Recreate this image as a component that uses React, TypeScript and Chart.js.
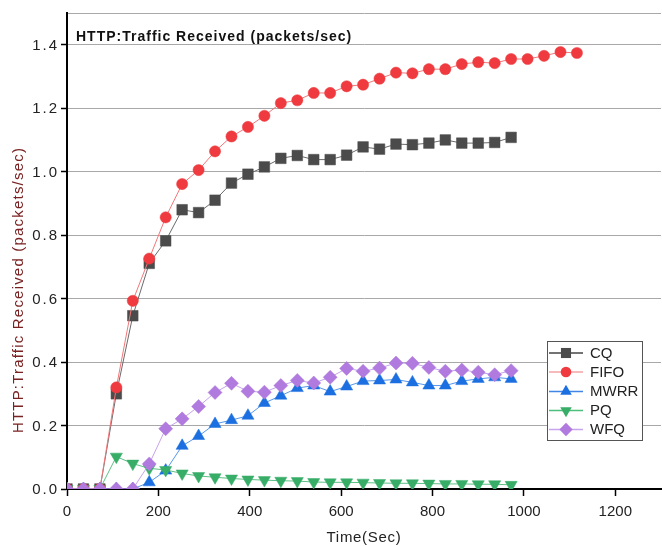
import React, { useEffect, useRef } from "react";
import { Chart, registerables } from "chart.js";

Chart.register(...registerables);

const CHART_TITLE = "HTTP:Traffic Received (packets/sec)";
const Y_TITLE = "HTTP:Traffic Received (packets/sec)";
const X_TITLE = "Time(Sec)";

const TIME_SHORT = [0, 36, 72, 108, 144, 180, 216, 252, 288, 324, 360, 396, 432, 468, 504, 540, 576, 612, 648, 684, 720, 756, 792, 828, 864, 900, 936, 972];
const TIME_LONG = [0, 36, 72, 108, 144, 180, 216, 252, 288, 324, 360, 396, 432, 468, 504, 540, 576, 612, 648, 684, 720, 756, 792, 828, 864, 900, 936, 972, 1008, 1044, 1080, 1116];

const CQ = [0, 0, 0, 0.30, 0.546, 0.711, 0.782, 0.88, 0.871, 0.91, 0.964, 0.992, 1.015, 1.042, 1.051, 1.038, 1.038, 1.052, 1.078, 1.071, 1.087, 1.085, 1.09, 1.1, 1.09, 1.09, 1.092, 1.108];
const FIFO = [0, 0, 0, 0.32, 0.593, 0.726, 0.856, 0.961, 1.005, 1.064, 1.111, 1.141, 1.176, 1.216, 1.225, 1.248, 1.248, 1.269, 1.274, 1.293, 1.312, 1.31, 1.323, 1.323, 1.339, 1.345, 1.342, 1.355, 1.355, 1.365, 1.377, 1.374];
const MWRR = [0, 0, 0, 0, 0, 0.021, 0.058, 0.136, 0.167, 0.205, 0.217, 0.231, 0.271, 0.294, 0.318, 0.326, 0.307, 0.323, 0.34, 0.342, 0.345, 0.336, 0.326, 0.326, 0.34, 0.347, 0.352, 0.347];
const PQ = [0, 0, 0, 0.102, 0.08, 0.065, 0.06, 0.049, 0.041, 0.037, 0.033, 0.03, 0.028, 0.026, 0.025, 0.022, 0.021, 0.021, 0.02, 0.019, 0.018, 0.018, 0.017, 0.016, 0.016, 0.015, 0.015, 0.013];
const WFQ = [0, 0, 0, 0, 0, 0.079, 0.19, 0.221, 0.26, 0.304, 0.333, 0.308, 0.305, 0.326, 0.342, 0.334, 0.352, 0.38, 0.371, 0.381, 0.397, 0.396, 0.383, 0.371, 0.375, 0.368, 0.36, 0.373];

const X_TICKS = [0, 200, 400, 600, 800, 1000, 1200];
const Y_TICKS = [0, 0.2, 0.4, 0.6, 0.8, 1.0, 1.2, 1.4];

type SeriesDef = {
  name: string;
  times: number[];
  values: number[];
  marker: string;
  line: string;
  shape: string;
  rotation: number;
  radius: number;
  order: number;
};

const SERIES: SeriesDef[] = [
  { name: "CQ", times: TIME_SHORT, values: CQ, marker: "#4b4b4b", line: "#6a6a6a", shape: "rect", rotation: 0, radius: 7.5, order: 4 },
  { name: "FIFO", times: TIME_LONG, values: FIFO, marker: "#ef3a3f", line: "#f2777a", shape: "circle", rotation: 0, radius: 5.6, order: 1 },
  { name: "MWRR", times: TIME_SHORT, values: MWRR, marker: "#1b6fe0", line: "#5596ea", shape: "triangle", rotation: 0, radius: 7, order: 3 },
  { name: "PQ", times: TIME_SHORT, values: PQ, marker: "#37ad68", line: "#5cc085", shape: "triangle", rotation: 180, radius: 7, order: 2 },
  { name: "WFQ", times: TIME_SHORT, values: WFQ, marker: "#b07ade", line: "#c6a2ec", shape: "rectRot", rotation: 0, radius: 7, order: 0 },
];

const LEGEND_LINE = ["#444444", "#f4a3a5", "#3f86e6", "#4cc07c", "#c9a5ef"];

function drawMarker(ctx: CanvasRenderingContext2D, shape: string, rotation: number, x: number, y: number, r: number) {
  ctx.beginPath();
  if (shape === "circle") {
    ctx.arc(x, y, r, 0, Math.PI * 2);
  } else if (shape === "rect") {
    const s = r * Math.SQRT1_2;
    ctx.rect(x - s, y - s, 2 * s, 2 * s);
  } else if (shape === "rectRot") {
    ctx.moveTo(x - r, y);
    ctx.lineTo(x, y - r);
    ctx.lineTo(x + r, y);
    ctx.lineTo(x, y + r);
    ctx.closePath();
  } else if (shape === "triangle") {
    const dir = rotation === 180 ? -1 : 1;
    ctx.moveTo(x, y - dir * r);
    ctx.lineTo(x + r * 0.866, y + dir * r * 0.5);
    ctx.lineTo(x - r * 0.866, y + dir * r * 0.5);
    ctx.closePath();
  }
  ctx.fill();
}

const FONT = '"Liberation Sans", Arial, sans-serif';

const overlayPlugin = {
  id: "overlay",
  afterDraw(chart: any) {
    const ctx: any = chart.ctx;
    const a = chart.chartArea;
    const yScale = chart.scales.y;
    ctx.save();

    // y tick labels
    ctx.font = `15px ${FONT}`;
    ctx.fillStyle = "#222";
    ctx.textAlign = "right";
    ctx.textBaseline = "middle";
    ctx.letterSpacing = "2px";
    Y_TICKS.forEach((v) => {
      ctx.fillText(v.toFixed(1), 59, yScale.getPixelForValue(v) + 1);
    });

    // inner title
    ctx.letterSpacing = "1px";
    ctx.font = `bold 14px ${FONT}`;
    ctx.fillStyle = "#111";
    ctx.textAlign = "left";
    ctx.textBaseline = "alphabetic";
    ctx.fillText(CHART_TITLE, a.left + 9, a.top + 27.5);

    // x title
    ctx.letterSpacing = "0.7px";
    ctx.font = `15px ${FONT}`;
    ctx.fillStyle = "#222";
    ctx.textAlign = "center";
    ctx.textBaseline = "middle";
    ctx.fillText(X_TITLE, (a.left + a.right) / 2, 538);

    // y title
    ctx.save();
    ctx.translate(19, 290);
    ctx.rotate(-Math.PI / 2);
    ctx.letterSpacing = "1.2px";
    ctx.fillStyle = "#7a2222";
    ctx.font = `15px ${FONT}`;
    ctx.textAlign = "center";
    ctx.textBaseline = "middle";
    ctx.fillText(Y_TITLE, 0, 0);
    ctx.restore();

    // legend
    ctx.letterSpacing = "0px";
    const bx = 547.5, by = 341.5, bw = 95, bh = 99;
    ctx.fillStyle = "#fff";
    ctx.fillRect(bx, by, bw, bh);
    ctx.strokeStyle = "#555";
    ctx.lineWidth = 1;
    ctx.strokeRect(bx, by, bw, bh);
    const rowY = [353, 372, 391.5, 410.5, 429.5];
    SERIES.forEach((s, i) => {
      const y = rowY[i];
      ctx.strokeStyle = LEGEND_LINE[i];
      ctx.lineWidth = 1.5;
      ctx.beginPath();
      ctx.moveTo(549, y);
      ctx.lineTo(583, y);
      ctx.stroke();
      ctx.fillStyle = s.marker;
      drawMarker(ctx, s.shape, s.rotation, 566, y, s.radius * 0.95);
      ctx.fillStyle = "#222";
      ctx.font = `15px ${FONT}`;
      ctx.textAlign = "left";
      ctx.textBaseline = "middle";
      ctx.fillText(s.name, 590, y + 0.5);
    });
    ctx.restore();
  },
};

export default function App() {
  const ref = useRef<HTMLCanvasElement | null>(null);

  useEffect(() => {
    if (!ref.current) return;
    const datasets = SERIES.map((s) => ({
      label: s.name,
      data: s.times.map((t, i) => ({ x: t, y: s.values[i] })),
      borderColor: s.line,
      borderWidth: 1,
      backgroundColor: s.marker,
      pointBackgroundColor: s.marker,
      pointBorderColor: s.marker,
      pointBorderWidth: 0.5,
      pointStyle: s.shape,
      pointRotation: s.rotation,
      pointRadius: s.radius,
      pointHoverRadius: s.radius,
      tension: 0,
      fill: false,
      order: s.order,
    }));

    const chart = new Chart(ref.current, {
      type: "line",
      data: { datasets },
      plugins: [overlayPlugin],
      options: {
        animation: false,
        responsive: false,
        maintainAspectRatio: false,
        layout: { padding: { top: 12, right: 0, left: 0, bottom: 0 } },
        plugins: { legend: { display: false }, title: { display: false }, tooltip: { enabled: false } },
        scales: {
          x: {
            type: "linear",
            min: 0,
            max: 1300,
            afterFit: (scale: any) => {
              scale.height = 57;
            },
            afterBuildTicks: (scale: any) => {
              scale.ticks = X_TICKS.map((v) => ({ value: v }));
            },
            ticks: {
              autoSkip: false,
              maxRotation: 0,
              padding: 7,
              color: "#222",
              font: { size: 15, family: FONT },
              callback: (v: any) => String(v),
            },
            grid: {
              drawOnChartArea: false,
              drawTicks: true,
              tickLength: 7,
              tickColor: "#000",
              tickWidth: 1.5,
            },
            border: { color: "#000", width: 2 },
          },
          y: {
            type: "linear",
            min: 0,
            max: 1.5,
            afterFit: (scale: any) => {
              scale.width = 67;
            },
            afterBuildTicks: (scale: any) => {
              scale.ticks = [...Y_TICKS, 1.5].map((v) => ({ value: v }));
            },
            ticks: {
              autoSkip: false,
              padding: 4,
              color: "rgba(0,0,0,0)",
              font: { size: 15, family: FONT },
              callback: () => "",
            },
            grid: {
              color: "#a8a8a8",
              lineWidth: 1,
              tickLength: 6,
              tickColor: (c: any) => (c.tick && c.tick.value === 1.5 ? "rgba(0,0,0,0)" : "#000"),
              tickWidth: 1.5,
            },
            border: { color: "#000", width: 2 },
          },
        },
      },
    });
    return () => chart.destroy();
  }, []);

  return (
    <div style={{ position: "fixed", left: 0, top: 0, width: 662, height: 546, background: "#fff", overflow: "hidden" }}>
      <canvas ref={ref} width={669} height={546} style={{ width: 669, height: 546, display: "block" }} />
    </div>
  );
}
